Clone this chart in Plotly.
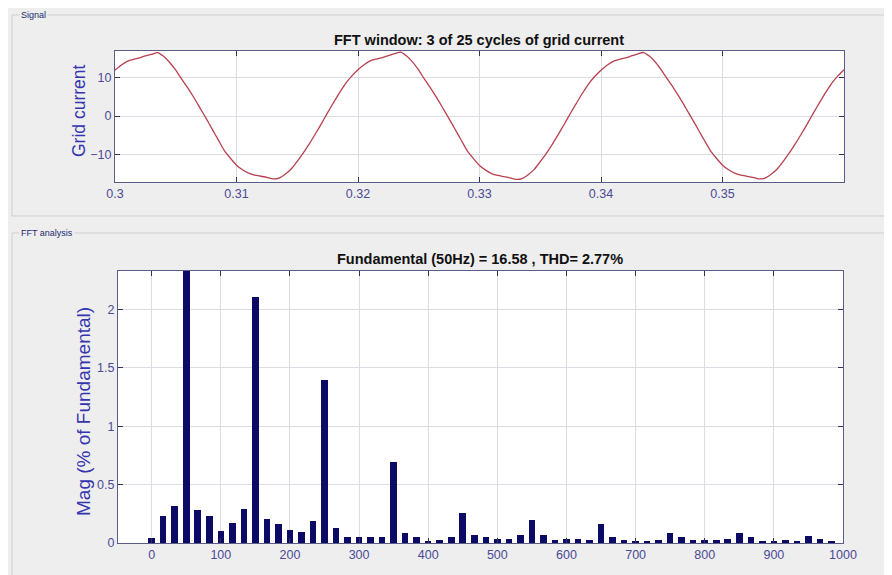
import numpy as np
import plotly.graph_objects as go

# ---------------- data ----------------
title_signal = "FFT window: 3 of 25 cycles of grid current"
title_fft = "Fundamental (50Hz) = 16.58 , THD= 2.77%"
ytitle_signal = "Grid current"
ytitle_fft = "Mag (% of Fundamental)"

# grid current samples, t = 0.300 ... 0.360 s every 0.5 ms
signal_time = list(np.round(np.linspace(0.30, 0.36, 121), 4))
signal_values = [
    12.0, 13.3, 14.3, 14.8, 15.2, 15.7, 16.1, 16.6, 15.6, 14.0,
    12.0, 9.6, 7.3, 4.8, 2.1, -0.6, -3.4, -6.2, -9.0, -11.0,
    -12.8, -14.0, -14.9, -15.4, -15.7, -16.0, -16.4, -16.2, -15.2, -13.8,
    -11.8, -9.6, -7.2, -4.6, -1.9, 0.9, 3.6, 6.2, 8.6, 10.5,
    12.1, 13.4, 14.4, 14.9, 15.3, 15.8, 16.3, 16.7, 15.7, 14.1,
    12.0, 9.5, 7.2, 4.7, 2.0, -0.7, -3.5, -6.3, -9.1, -11.1,
    -12.9, -14.1, -15.0, -15.5, -15.8, -16.1, -16.5, -16.3, -15.3, -13.9,
    -11.9, -9.7, -7.3, -4.7, -2.0, 0.8, 3.5, 6.1, 8.5, 10.4,
    12.0, 13.3, 14.3, 14.8, 15.2, 15.7, 16.2, 16.6, 15.6, 14.0,
    11.9, 9.5, 7.2, 4.7, 2.0, -0.7, -3.5, -6.3, -9.0, -11.0,
    -12.8, -14.0, -14.9, -15.4, -15.7, -16.0, -16.4, -16.2, -15.2, -13.8,
    -11.8, -9.6, -7.2, -4.6, -1.9, 0.9, 3.6, 6.2, 8.6, 10.5,
    12.1,
]

# FFT bins every 50/3 Hz (3-cycle window), 0 ... 983.3 Hz
fft_freq = [round(k * 50 / 3, 3) for k in range(60)]
fft_mag = [
    0.043, 0.23, 0.32, 100.0, 0.28, 0.23, 0.106, 0.17, 0.29, 2.11,
    0.21, 0.16, 0.11, 0.094, 0.19, 1.40, 0.13, 0.055, 0.055, 0.055,
    0.055, 0.69, 0.083, 0.049, 0.017, 0.026, 0.055, 0.255, 0.069, 0.049,
    0.037, 0.037, 0.069, 0.20, 0.069, 0.026, 0.031, 0.037, 0.026, 0.16,
    0.049, 0.026, 0.009, 0.011, 0.026, 0.083, 0.049, 0.026, 0.026, 0.026,
    0.037, 0.083, 0.049, 0.014, 0.017, 0.026, 0.017, 0.060, 0.031, 0.014,
]

top_xticks = [0.3, 0.31, 0.32, 0.33, 0.34, 0.35]
top_xticklabels = ["0.3", "0.31", "0.32", "0.33", "0.34", "0.35"]
top_yticks = [-10, 0, 10]
fft_xticks = [0, 100, 200, 300, 400, 500, 600, 700, 800, 900, 1000]
fft_yticks = [0, 0.5, 1, 1.5, 2]
fft_yticklabels = ["0", "0.5", "1", "1.5", "2"]

# ---------------- style ----------------
W, H = 892, 575
OFF = 8  # page body margin
FONT = "Liberation Sans"
TICK_COL = "#4a4a96"
TITLE_Y_COL = "#3535b0"
AX_COL = "#5c5c88"
GRID_COL = "#dcdce4"
BAR_COL = "#0b0b66"
LINE_COL = "#b8404e"


def px_x(p):
    return (p - OFF) / W


def px_y(p):
    return 1 - (p - OFF) / H


fig = go.Figure()

fig.add_trace(go.Scatter(
    x=signal_time, y=signal_values, mode="lines",
    line=dict(color=LINE_COL, width=1.3, shape="spline", smoothing=0.6), xaxis="x", yaxis="y",
    showlegend=False, hoverinfo="x+y",
))

fig.add_trace(go.Bar(
    x=fft_freq, y=fft_mag, width=9.5, marker=dict(color=BAR_COL, line=dict(width=0)),
    xaxis="x2", yaxis="y2", showlegend=False,
))

axis_common = dict(
    showline=True, linecolor=AX_COL, linewidth=1.2, mirror="ticks",
    ticks="inside", ticklen=5, tickcolor="#333355", tickwidth=1,
    showgrid=True, gridcolor=GRID_COL, gridwidth=1, automargin=False,
    zeroline=False, tickfont=dict(family=FONT, size=12.5, color=TICK_COL),
)

fig.update_layout(
    width=W, height=H,
    margin=dict(l=0, r=0, t=0, b=0),
    paper_bgcolor="#eeeeee", plot_bgcolor="#ffffff",
    font=dict(family=FONT),
    bargap=0,
    xaxis=dict(domain=[px_x(115), px_x(844)], range=[0.3, 0.36],
               tickvals=top_xticks, ticktext=top_xticklabels, anchor="y", **axis_common),
    yaxis=dict(domain=[px_y(182), px_y(51)], range=[-17.2, 17.0],
               tickvals=top_yticks, anchor="x", **axis_common),
    xaxis2=dict(domain=[px_x(118), px_x(843)], range=[-48.7, 1000],
                tickvals=fft_xticks, anchor="y2", **axis_common),
    yaxis2=dict(domain=[px_y(543), px_y(271)], range=[0, 2.331],
                tickvals=fft_yticks, ticktext=fft_yticklabels, anchor="x2", **axis_common),
)

# group-box panels
shapes = [
    dict(type="rect", xref="paper", yref="paper", x0=px_x(12), x1=px_x(910), y0=px_y(216), y1=px_y(15),
         line=dict(color="#cfcfcf", width=1), fillcolor="rgba(0,0,0,0)", layer="below"),
    dict(type="rect", xref="paper", yref="paper", x0=px_x(12), x1=px_x(910), y0=px_y(600), y1=px_y(233),
         line=dict(color="#cfcfcf", width=1), fillcolor="rgba(0,0,0,0)", layer="below"),
]
fig.update_layout(shapes=shapes)

annotations = [
    dict(text="Signal", x=px_x(19), y=px_y(15), xref="paper", yref="paper", showarrow=False,
         xanchor="left", yanchor="middle", bgcolor="#eeeeee",
         font=dict(family=FONT, size=9, color="#1a2a70")),
    dict(text="FFT analysis", x=px_x(19), y=px_y(233), xref="paper", yref="paper", showarrow=False,
         xanchor="left", yanchor="middle", bgcolor="#eeeeee",
         font=dict(family=FONT, size=9, color="#1a2a70")),
    dict(text="<b>" + title_signal + "</b>", x=px_x(479), y=px_y(40), xref="paper", yref="paper",
         showarrow=False, xanchor="center", yanchor="middle",
         font=dict(family=FONT, size=14.5, color="#111111")),
    dict(text="<b>" + title_fft + "</b>", x=px_x(480), y=px_y(259), xref="paper", yref="paper",
         showarrow=False, xanchor="center", yanchor="middle",
         font=dict(family=FONT, size=14.5, color="#111111")),
    dict(text=ytitle_signal, x=px_x(79), y=px_y(111), xref="paper", yref="paper",
         showarrow=False, xanchor="center", yanchor="middle", textangle=-90,
         font=dict(family=FONT, size=17.5, color=TITLE_Y_COL)),
    dict(text=ytitle_fft, x=px_x(83), y=px_y(412), xref="paper", yref="paper",
         showarrow=False, xanchor="center", yanchor="middle", textangle=-90,
         font=dict(family=FONT, size=19, color=TITLE_Y_COL)),
]
fig.update_layout(annotations=annotations)

fig.write_html("out.html")
